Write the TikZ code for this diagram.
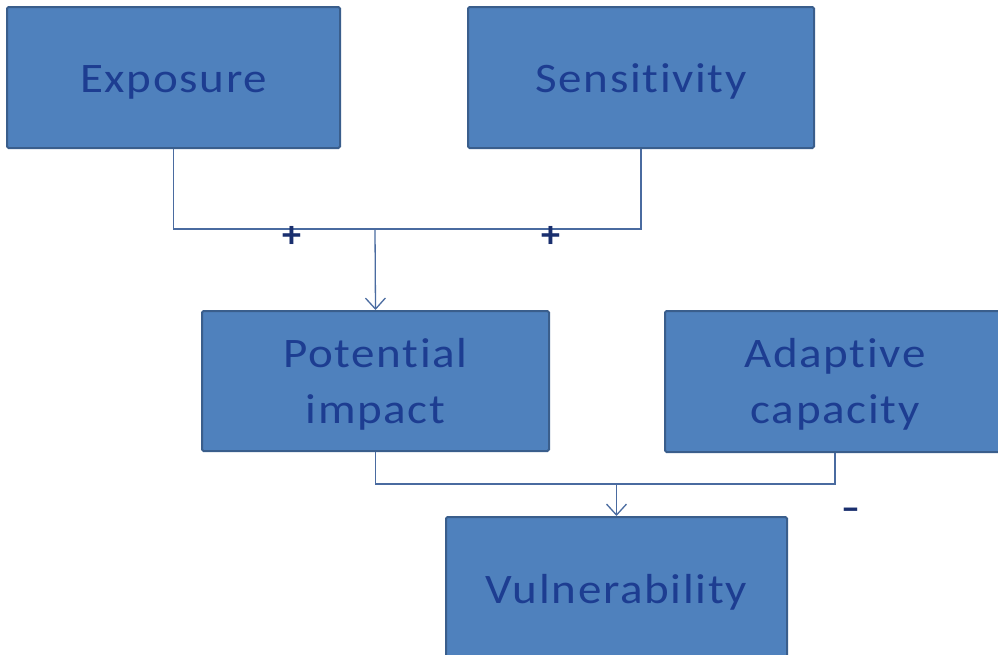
\documentclass[tikz,border=0pt]{standalone}
\usepackage{fontspec}
\setmainfont{Carlito}
\newfontfamily\boxfont[FakeStretch=1.12,LetterSpace=4,RawFeature={-liga}]{Carlito}
\usetikzlibrary{arrows.meta}
\definecolor{boxfill}{HTML}{4F81BD}
\definecolor{boxline}{HTML}{3A5E8C}
\definecolor{boxtext}{HTML}{1D3D91}
\definecolor{connline}{HTML}{4A6BA0}
\definecolor{signcol}{HTML}{1A2F6E}
\tikzset{
  box/.style={draw=boxline, line width=2pt, fill=boxfill, rounded corners=1.5pt,
    text=boxtext, align=center, inner sep=0pt,
    font=\boxfont\fontsize{42}{56}\selectfont},
  oneline/.style={text height=38pt, text depth=9pt},
  twoline/.style={text height=94pt, text depth=10pt},
  conn/.style={draw=connline, line width=1.3pt},
  arr/.style={conn, -{Straight Barb[length=11pt,width=20pt,line width=1.3pt]}},
  sign/.style={text=signcol, inner sep=0pt, font=\bfseries\fontsize{38}{38}\selectfont}
}
\begin{document}
\begin{tikzpicture}[x=1pt,y=-1pt]
\useasboundingbox (0,0) rectangle (998,654);
\clip (0,0) rectangle (998,654);
\node[box, oneline, minimum width=333pt, minimum height=141pt] (exp) at (173.5,77.5) {Exposure};
\node[box, oneline, minimum width=346pt, minimum height=141pt] (sen) at (641,77.5) {Sensitivity};
\node[box, twoline, minimum width=347pt, minimum height=140pt] (pot) at (375.5,381) {Potential\\impact};
\node[box, twoline, minimum width=340pt, minimum height=141pt] (ada) at (835,381.5) {Adaptive\\capacity};
\node[box, oneline, minimum width=341pt, minimum height=143pt] (vul) at (616.5,588.5) {Vulnerability};
\coordinate (j1) at (375,229);
\coordinate (j2) at (616.5,484);
\draw[conn] (exp.south) |- (j1);
\draw[conn] (sen.south) |- (j1);
\draw[arr] (j1) -- (pot.north);
\draw[conn] (pot.south) |- (j2);
\draw[conn] (ada.south) |- (j2);
\draw[arr] (j2) -- (vul.north);
\node[sign] (p1) at (292,237) {+};
\node[sign] (p2) at (551,237) {+};
\node[sign] (m1) at (851,514) {–};
\end{tikzpicture}
\end{document}
